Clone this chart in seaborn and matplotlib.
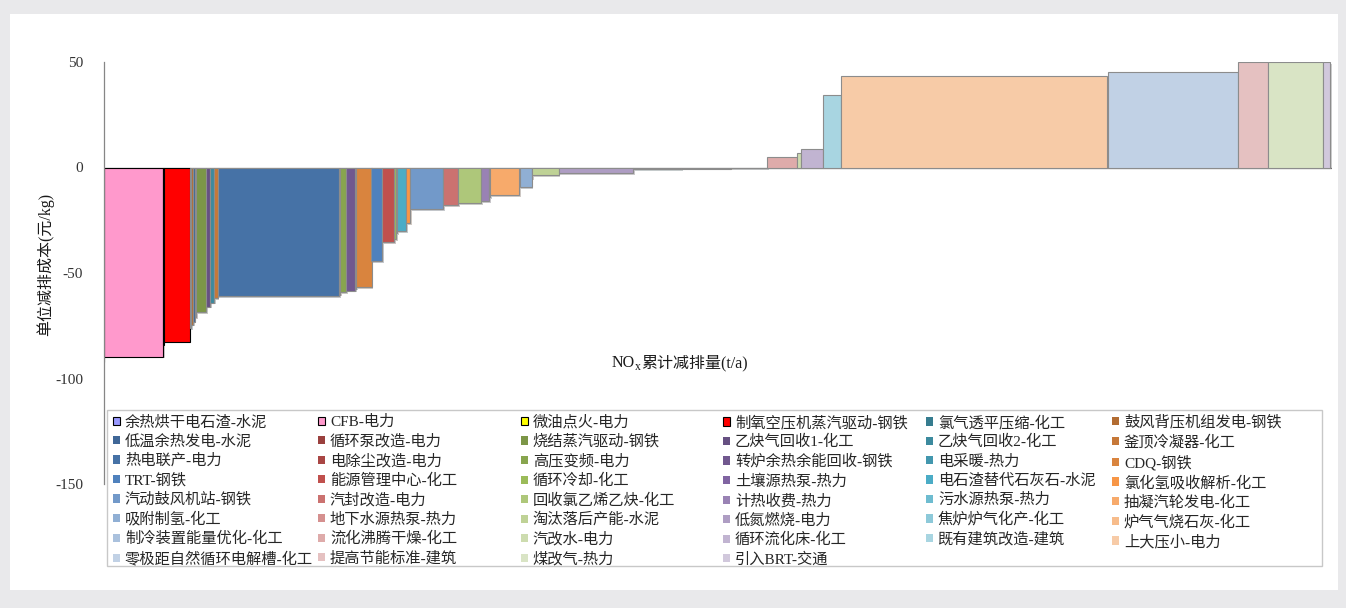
import matplotlib
matplotlib.use("Agg")
import matplotlib.pyplot as plt
import matplotlib.patheffects as pe
from matplotlib.patches import Rectangle
import numpy as np
import seaborn as sns

# ---------------- data ----------------
measures = [
    "余热烘干电石渣-水泥", "CFB-电力", "微油点火-电力", "制氧空压机蒸汽驱动-钢铁", "氯气透平压缩-化工", "鼓风背压机组发电-钢铁",
    "低温余热发电-水泥", "循环泵改造-电力", "烧结蒸汽驱动-钢铁", "乙炔气回收1-化工", "乙炔气回收2-化工", "釜顶冷凝器-化工",
    "热电联产-电力", "电除尘改造-电力", "高压变频-电力", "转炉余热余能回收-钢铁", "电采暖-热力", "CDQ-钢铁",
    "TRT-钢铁", "能源管理中心-化工", "循环冷却-化工", "土壤源热泵-热力", "电石渣替代石灰石-水泥", "氯化氢吸收解析-化工",
    "汽动鼓风机站-钢铁", "汽封改造-电力", "回收氯乙烯乙炔-化工", "计热收费-热力", "污水源热泵-热力", "抽凝汽轮发电-化工",
    "吸附制氢-化工", "地下水源热泵-热力", "淘汰落后产能-水泥", "低氮燃烧-电力", "焦炉炉气化产-化工", "炉气气烧石灰-化工",
    "制冷装置能量优化-化工", "流化沸腾干燥-化工", "汽改水-电力", "循环流化床-化工", "既有建筑改造-建筑", "上大压小-电力",
    "零极距自然循环电解槽-化工", "提高节能标准-建筑", "煤改气-热力", "引入BRT-交通",
]
# NOx reduction of each measure (t/a)
reduction = [
    30, 5900, 30, 2590, 180, 190,
    140, 140, 1020, 380, 400, 370,
    12160, 100, 570, 900, 100, 1550,
    1080, 1170, 230, 70, 900, 450,
    3280, 1500, 2270, 830, 70, 2950,
    1200, 80, 2620, 7450, 4800, 5000,
    3650, 2950, 400, 2250, 1800, 26600,
    13050, 3050, 5450, 700,
]
# unit abatement cost (yuan/kg)
cost = [
    -92, -89.6, -84, -82.5, -76, -74.5,
    -73, -71, -68.5, -66, -64, -62,
    -61, -60.2, -59, -58.3, -57.5, -56.7,
    -44.4, -35.5, -34, -31, -30.2, -26.5,
    -19.9, -17.7, -16.9, -16.1, -14, -13.2,
    -9.3, -5, -3.6, -2.8, -0.9, -0.6,
    -0.35, 4.8, 6.7, 8.7, 34.2, 43.2,
    45.1, 50, 50, 50,
]
y_ticks = [-150, -100, -50, 0, 50]

# ---------------- style ----------------
sns.set_style("white")
plt.rcParams["font.family"] = ["Liberation Serif", "Noto Sans CJK SC"]
plt.rcParams["axes.unicode_minus"] = False

accents = ["#4F81BD", "#C0504D", "#9BBB59", "#8064A2", "#4BACC6", "#F79646"]
levels = [("shade", 0.72), ("shade", 0.80), ("shade", 0.88), ("shade", 1.0),
          ("tint", 0.17), ("tint", 0.33), ("tint", 0.48), ("tint", 0.62)]
base_rgb = [np.array(matplotlib.colors.to_rgb(c)) for c in accents]
grey = np.array([0.86, 0.86, 0.88])
colors = []
for i in range(len(measures)):
    kind, f = levels[i // 6]
    b = base_rgb[i % 6]
    if kind == "shade":
        colors.append(tuple(b * f))
    else:
        light = b + (1 - b) * f
        # Excel light tints look slightly greyish
        colors.append(tuple(np.clip(light * (1 - 0.25 * f) + grey * 0.25 * f, 0, 1)))
custom = {0: "#9999FF", 1: "#FF99CC", 2: "#FFFF00", 3: "#FF0000"}
for k, v in custom.items():
    colors[k] = v
edges = ["black" if i in custom else "#8C8C8C" for i in range(len(measures))]

W, H = 1346, 608
fig = plt.figure(figsize=(W / 100, H / 100), dpi=100, facecolor="#E9E9EB")
fig.patches.append(Rectangle((10 / W, 1 - 590 / H), (1338 - 10) / W, (590 - 14) / H,
                             transform=fig.transFigure, facecolor="white",
                             edgecolor="none", zorder=-10))

ax = fig.add_axes([104 / W, 1 - 484 / H, 1228 / W, 422 / H])
ax.set_facecolor("none")

left = np.concatenate([[0], np.cumsum(reduction)[:-1]])
bars = ax.bar(left, cost, width=reduction, align="edge", color=colors,
              edgecolor=edges, linewidth=0.8, zorder=2)
for b in bars:
    b.set_path_effects([pe.SimplePatchShadow(offset=(1.2, -1.2), alpha=0.25), pe.Normal()])

total = float(np.sum(reduction))
ax.set_xlim(0, total + 200)
ax.set_ylim(-150, 50)
ax.axhline(0, color="#868686", lw=0.9, zorder=1)

for s in ["top", "right", "bottom"]:
    ax.spines[s].set_visible(False)
ax.spines["left"].set_color("#868686")
ax.spines["left"].set_linewidth(0.9)
ax.set_xticks([])
ax.set_yticks(y_ticks)
ax.tick_params(axis="y", direction="inout", length=4, width=0.8, color="#868686",
               pad=13, labelsize=11, labelcolor="#333333")
ax.grid(False)

ax.set_ylabel("单位减排成本(元/kg)", fontsize=11.5, color="#1a1a1a")
ax.yaxis.set_label_coords(-0.041, 0.52)

# x label: NOx (with subscript) + Chinese text
fig.canvas.draw()
r = fig.canvas.get_renderer()
yl = 1 - 363 / H
t1 = fig.text(612 / W, yl, "NO", fontsize=11.5, va="center", ha="left", color="#1a1a1a")
e1 = t1.get_window_extent(r)
t2 = fig.text(e1.x1 / W, yl - 4 / H, "x", fontsize=8.5, va="center", ha="left", color="#1a1a1a")
e2 = t2.get_window_extent(r)
fig.text(e2.x1 / W, yl, "累计减排量(t/a)", fontsize=11.5, va="center", ha="left", color="#1a1a1a")

# legend frame
fig.patches.append(Rectangle((107 / W, 1 - 566 / H), (1322 - 107) / W, (566 - 410) / H,
                             transform=fig.transFigure, facecolor="white",
                             edgecolor="#C8C8C8", lw=1.0, zorder=3))
handles = [Rectangle((0, 0), 1, 1, facecolor=colors[i],
                     edgecolor=("black" if i in custom else "none"), linewidth=0.8)
           for i in range(len(measures))]
col_x = [113, 318, 521, 723, 926, 1112]
for c in range(6):
    idx = list(range(c, len(measures), 6))
    leg = fig.legend([handles[i] for i in idx], [measures[i] for i in idx],
                     loc="upper left", bbox_to_anchor=(col_x[c] / W, 1 - 415 / H),
                     bbox_transform=fig.transFigure, frameon=False, borderpad=0,
                     borderaxespad=0, handlelength=0.45, handleheight=0.45,
                     handletextpad=0.33, labelspacing=0.33, fontsize=11)
    for t in leg.get_texts():
        t.set_color("#262626")

fig.savefig("out.png", dpi=100, facecolor=fig.get_facecolor())
